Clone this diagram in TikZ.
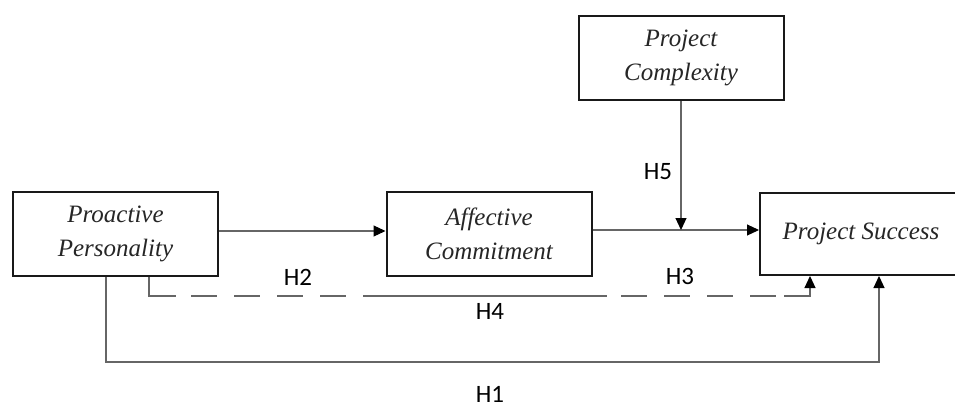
\documentclass[tikz,border=0pt]{standalone}
\usepackage{fontspec}
\setmainfont{Liberation Serif}
\newfontfamily\labfont{Carlito}
\usetikzlibrary{arrows.meta}
\tikzset{
  varbox/.style={draw=black!90, line width=2pt, rectangle, minimum width=205pt, minimum height=84pt,
     align=center, font=\fontsize{25}{34}\selectfont\itshape, text=black!85, inner sep=0pt},
  conn/.style={draw=black!60, line width=1.1pt, -{Triangle[length=12pt,width=11pt,fill=black,color=black]}},
  plainline/.style={draw=black!60, line width=1.1pt},
  hlab/.style={font=\labfont\fontsize{25}{25}\selectfont, text=black, inner sep=0pt}
}
\begin{document}
\begin{tikzpicture}[x=1pt,y=-1pt]
\useasboundingbox (0,0) rectangle (955,407);
\node[varbox] (PP) at (115.5,234) {Proactive\\Personality};
\node[varbox] (AC) at (489,234) {Affective\\Commitment};
\node[varbox] (PC) at (681,58) {Project\\Complexity};
\node[varbox, minimum width=202pt, minimum height=82pt] (PS) at (861,234) {Project Success};

\coordinate (m) at (681,230);
\coordinate (d1) at (149,296);
\coordinate (d2) at (810,296);
\coordinate (s1) at (106,362);
\coordinate (s2) at (879,362);

\draw[conn] ([yshift=3pt]PP.east) -- ([yshift=3pt]AC.west);
\draw[conn] ([yshift=4pt]AC.east) -- ([yshift=4pt]PS.west);
\draw[conn] (PC.south) -- (m);
\draw[conn, dash pattern=on 26pt off 17pt, dash phase=25pt] (PP.south -| d1) -- (d1) -- (d2) -- (PS.south -| d2);
\draw[plainline] (PP.south -| d1) -- (d1) -- (176,296);
\draw[plainline] (368,296) -- (607,296);
\draw[plainline] (784,296) -- (d2) -- ([yshift=-14pt]PS.south -| d2);
\draw[conn] (PP.south -| s1) -- (s1) -- (s2) -- (PS.south -| s2);

\node[hlab] (h2) at (298,277) {H2};
\node[hlab] (h3) at (680,276) {H3};
\node[hlab] (h4) at (490,311.5) {H4};
\node[hlab] (h5) at (658,172) {H5};
\node[hlab] (h1) at (490,394) {H1};
\end{tikzpicture}
\end{document}
